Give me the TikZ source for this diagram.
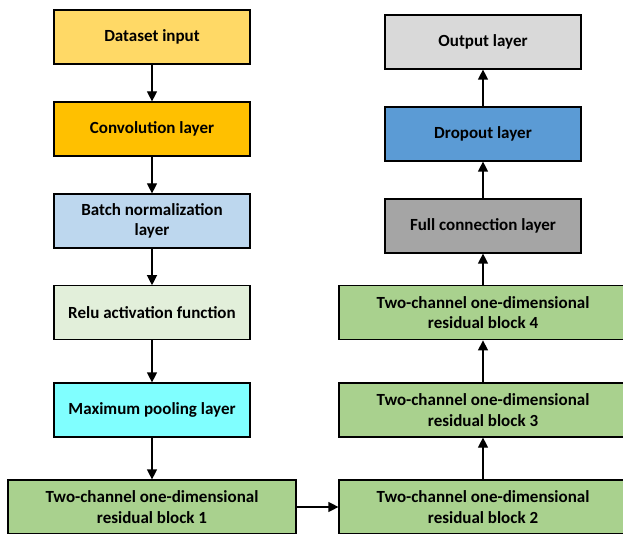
\documentclass[tikz,border=0pt]{standalone}
\usepackage{fontspec}
\setmainfont{Carlito}
\usetikzlibrary{arrows.meta}
\definecolor{cInput}{HTML}{FFD966}
\definecolor{cConv}{HTML}{FFC000}
\definecolor{cBatch}{HTML}{BDD7EE}
\definecolor{cRelu}{HTML}{E2EFDA}
\definecolor{cPool}{HTML}{80FFFF}
\definecolor{cRes}{HTML}{A9D18E}
\definecolor{cOut}{HTML}{D9D9D9}
\definecolor{cDrop}{HTML}{5B9BD5}
\definecolor{cFull}{HTML}{A5A5A5}
\tikzset{
  layerbox/.style={draw=black, line width=1.2pt, minimum height=54pt,
    minimum width=196pt, align=center, inner sep=2pt,
    font=\fontsize{17}{20.5}\selectfont\bfseries},
  resbox/.style={layerbox, fill=cRes, minimum width=288pt},
  flow/.style={line width=1.2pt, -{Triangle[width=10pt,length=10pt]}}
}
\begin{document}
\begin{tikzpicture}[x=1pt, y=-1pt]
  \clip (0,0) rectangle (623,534);
  \fill[white] (0,0) rectangle (623,534);
  % left column, top to bottom
  \node[layerbox, fill=cInput] (inp)  at (152,37)    {Dataset input};
  \node[layerbox, fill=cConv]  (conv) at (152,129)   {Convolution layer};
  \node[layerbox, fill=cBatch] (bn)   at (152,221)   {Batch normalization\\layer};
  \node[layerbox, fill=cRelu]  (relu) at (152,312.8) {Relu activation function};
  \node[layerbox, fill=cPool]  (pool) at (152,410)   {Maximum pooling layer};
  \node[resbox] (r1) at (152,507) {Two-channel one-dimensional\\residual block 1};
  % right column, bottom to top
  \node[resbox] (r2) at (483,507)   {Two-channel one-dimensional\\residual block 2};
  \node[resbox] (r3) at (483,410)   {Two-channel one-dimensional\\residual block 3};
  \node[resbox] (r4) at (483,312.8) {Two-channel one-dimensional\\residual block 4};
  \node[layerbox, fill=cFull] (fc)   at (483,226) {Full connection layer};
  \node[layerbox, fill=cDrop] (drop) at (483,134) {Dropout layer};
  \node[layerbox, fill=cOut]  (out)  at (483,42)  {Output layer};
  % connectors
  \draw[flow] (inp) -- (conv);
  \draw[flow] (conv) -- (bn);
  \draw[flow] (bn) -- (relu);
  \draw[flow] (relu) -- (pool);
  \draw[flow] (pool) -- (r1);
  \draw[flow] (r1) -- (r2);
  \draw[flow] (r2) -- (r3);
  \draw[flow] (r3) -- (r4);
  \draw[flow] (r4) -- (fc);
  \draw[flow] (fc) -- (drop);
  \draw[flow] (drop) -- (out);
\end{tikzpicture}
\end{document}
